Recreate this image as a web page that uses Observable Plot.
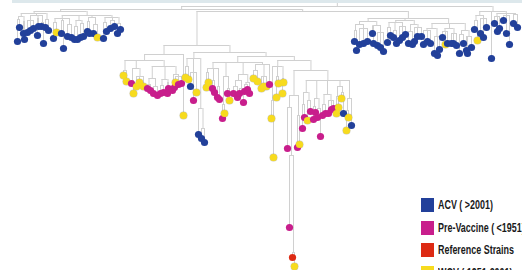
<!DOCTYPE html>
<html><head><meta charset="utf-8">
<script src="https://cdn.jsdelivr.net/npm/d3@7"></script>
<script src="https://cdn.jsdelivr.net/npm/@observablehq/plot@0.6"></script>
<style>
html,body{margin:0;padding:0;background:#fff;overflow:hidden;width:522px;height:270px;}
#wrap{position:relative;width:522px;height:270px;overflow:hidden;}
#strip{position:absolute;left:12px;top:0;width:510px;height:3px;background:#dde8ec;}
#chart{position:absolute;left:0;top:0;}
.item{position:absolute;left:421px;white-space:nowrap;height:14px;}
.sw{position:absolute;left:0;top:0;width:13px;height:14px;}
.lab{position:absolute;left:17px;top:0;white-space:nowrap;font-family:"Liberation Sans",Arial,sans-serif;font-weight:bold;font-size:12px;color:#1a1a1a;line-height:14px;transform-origin:0 50%;}
</style></head>
<body><div id="wrap"><div id="strip"></div><div id="chart"></div></div>
<script>
// Legend / categories
const groupCodes = ["A", "P", "R", "W"];
const groupLabels = ["ACV ( >2001)", "Pre-Vaccine ( <1951)", "Reference Strains", "WCV ( 1951-2001)"];
const groupColors = ["#22409a", "#c81e8c", "#dd2a14", "#f7db1e"];

// Tips: horizontal position and depth (distance down from the top)
const leftX = [17,19,23,24,27,30,33,37,38,41,43,45,48,53,56,61,63,67,71,74,77,80,83,87,89,93,97,103,106,110,114,117,120];
const leftDepth = [41,27,33,39,32,30,28,35,26,26,43,27,30,38,32,33,48,36,37,39,39,37,36,31,33,33,37,38,31,28,26,33,29];
const leftGroup = ["A","A","A","A","A","A","A","A","A","A","A","A","A","A","W","A","A","A","A","A","A","A","A","A","A","A","W","A","A","A","A","A","A"];

const midX = [123,126,131,133,136,139,143,147,150,153,157,160,163,167,168,172,174,175,178,181,183,185,188,190,193,196,198,201,204,206,208,212,214,217,219,222,224,227,229,233,237,239,243,244,247,249,253,257,261,263,266,269,271,273,276,278,282,283,287,289,292,294,297,299,302,304,307,310,313,315,317,320,322,325,328,331,333,336,338,341,343,346,348,351];
const midDepth = [75,81,83,93,86,82,86,88,90,93,95,93,92,93,88,90,87,82,84,83,115,77,79,86,100,92,134,138,142,87,82,88,92,97,99,118,113,93,100,93,97,93,102,91,89,93,78,81,88,86,86,84,118,157,97,83,93,82,148,227,257,266,147,144,128,117,120,111,119,112,117,136,115,113,113,109,108,113,107,98,113,130,117,125];
const midGroup = ["W","W","P","W","W","W","W","P","P","P","P","P","P","P","P","P","P","W","P","P","W","W","W","A","P","W","A","A","A","W","W","P","P","P","P","P","W","P","W","P","P","P","P","P","P","P","W","W","W","W","W","P","W","W","W","W","W","W","P","P","R","W","P","W","P","P","W","P","P","P","P","P","P","P","P","P","P","W","W","W","A","W","W","A"];

const rightX = [354,356,359,363,367,372,373,377,380,383,387,390,393,396,399,402,405,408,412,414,417,421,423,427,430,434,437,439,442,445,447,451,453,456,459,463,466,467,471,474,477,480,483,486,491,494,497,499,503,506,509,513,517];
const rightDepth = [41,50,44,43,41,33,43,45,47,51,42,35,37,43,40,37,34,43,44,41,36,36,44,41,43,53,55,49,37,44,43,43,43,45,53,43,50,53,47,29,40,33,37,27,58,23,31,28,20,33,44,23,27];
const rightGroup = ["A","A","A","A","A","A","A","A","A","A","A","A","A","A","A","A","A","A","A","A","A","A","A","A","A","A","A","A","A","W","A","A","A","A","A","A","A","A","A","A","W","A","A","A","A","A","A","A","A","A","A","A","A"];

// Topology: "*" = next tip, "(...)h" = internal node at depth h
const leftTopology = "((((*,*)19,(*,*)21)16,((*,*,*)20,(*,*)18,(*,*)22)15,(*,*)19)13,(((*,*)22,(*,*)20,(*,*)24)18,((*,*)26,(*,*)23)20,((*,*)21,(*,*)24)17,((*,*)22,(*,*)20,(*,*)23)17)15)11";
const midTopologyA = "(((*,*)70,((*,*)80,(*,*,*)76)68,(((*,*)84,(*,*)86)78,((*,*)85,(*,*)82)79,((*,*)83,(*,*,*)76)74)66)60,*)54";
const midTopologyB1 = "((*,*)66,(*,*,*)72,(*,(*,*)128)108)58";
const midTopologyC1 = "(((*,*)72,(*,*)80,(*,*)86)68,((*,*)104,(*,*)88)76,(((*,*)86,(*,*)88)80,((*,*)84,*)82)74,((*,*)70,(*,*,*)76,*)64)62";
const midTopologyE = "((*,*)100,(*,*)76,(*,*)78)66";
const midTopologyG = "((*,(*,(*,*)252)155)107,(*,*)115)95";
const midTopologyH = "(((*,*)104,(*,*)100)92,((*,*)106,(*,*)108)98,((*,*)104,(*,*,*)100)94,((*,*)96,(*,*)92)86,((*,*)110,*)98)80";
const rightTopologyA = "((((*,*)30,(*,*,*)28)24,((*,*)26,(*,*,*)32)25)21,(((*,*)27,(*,*)30,(*,*,*)26)22,((*,*)31,(*,*,*)27)24)20,(((*,*,*)30,(*,*,*)36)28,((*,*,*)31,(*,*,*)33)28,((*,*)34,(*,*,*)36)30)23)18";
const rightTopologyB = "(((*,*)20,(*,*,*)18)15,*,((*,*,*)16,(*,*,*)15,(*,*)14)13)11";
const rootDepth = 6, stemTop = 3;

const midTopology = "(" + midTopologyA + ",(" + midTopologyB1 + ",(" + midTopologyC1 + ",(" + midTopologyE + ",(" + midTopologyG + "," + midTopologyH + ")70)60)56)52)45";
const topology = "((" + leftTopology + ",(" + midTopology + "," + rightTopologyA + ")11)9," + rightTopologyB + ")" + rootDepth;

const tips = [];
[[leftX, leftDepth, leftGroup], [midX, midDepth, midGroup], [rightX, rightDepth, rightGroup]].forEach(([xs, ds, gs]) => {
  xs.forEach((x, i) => tips.push({x, y: ds[i], group: gs[i]}));
});

function parse(str) {
  let i = 0, k = 0;
  function node() {
    if (str[i] === "*") { i++; return {tip: tips[k++]}; }
    if (str[i] === "(") {
      i++;
      const children = [];
      while (str[i] !== ")") {
        if (str[i] === ",") { i++; continue; }
        children.push(node());
      }
      i++;
      let num = "";
      while (i < str.length && /[0-9.]/.test(str[i])) num += str[i++];
      return {children, h: +num};
    }
    throw new Error("bad topology at " + i);
  }
  return node();
}
const root = parse(topology);

const hSegs = [], vSegs = [];
function layout(n) {
  if (n.tip) { n.x = n.tip.x; n.y = n.tip.y; return; }
  n.children.forEach(layout);
  n.x = (n.children[0].x + n.children[n.children.length - 1].x) / 2;
  n.y = n.h;
  hSegs.push({x1: d3.min(n.children, c => c.x), x2: d3.max(n.children, c => c.x), y: n.y});
  n.children.forEach(c => vSegs.push({x: c.x, y1: n.y, y2: c.y}));
}
layout(root);
vSegs.push({x: root.x, y1: stemTop, y2: root.y});

const chart = Plot.plot({
  width: 522, height: 270, margin: 0,
  x: {domain: [0, 522], range: [0, 522], axis: null},
  y: {domain: [0, 270], range: [0, 270], axis: null},
  color: {domain: groupCodes, range: groupColors},
  marks: [
    Plot.ruleY(hSegs, {x1: "x1", x2: "x2", y: "y", stroke: "#d0d0d0", strokeWidth: 1}),
    Plot.ruleX(vSegs, {x: "x", y1: "y1", y2: "y2", stroke: "#d0d0d0", strokeWidth: 1}),
    Plot.dot(tips.filter(d => d.group === "W"), {x: "x", y: "y", r: 4, fill: "#a8a27a", fillOpacity: 0.6}),
    Plot.dot(tips, {x: "x", y: "y", r: 3.6, fill: "group"})
  ]
});
document.getElementById("chart").appendChild(chart);

// Legend: condensed bold labels (reference width of "Reference Strains" ≈ 75px)
const wrap = document.getElementById("wrap");
const ctx = document.createElement("canvas").getContext("2d");
ctx.font = "bold 12px 'Liberation Sans', Arial, sans-serif";
const squeeze = Math.min(1, 76 / ctx.measureText("Reference Strains").width);
groupLabels.forEach((label, i) => {
  const div = document.createElement("div");
  div.className = "item";
  div.style.top = (198 + i * 22.5) + "px";
  const sw = document.createElement("span");
  sw.className = "sw";
  sw.style.background = groupColors[i];
  const lab = document.createElement("span");
  lab.className = "lab";
  lab.style.transform = "scaleX(" + squeeze + ")";
  lab.textContent = label;
  div.appendChild(sw);
  div.appendChild(lab);
  wrap.appendChild(div);
});
</script></body></html>
